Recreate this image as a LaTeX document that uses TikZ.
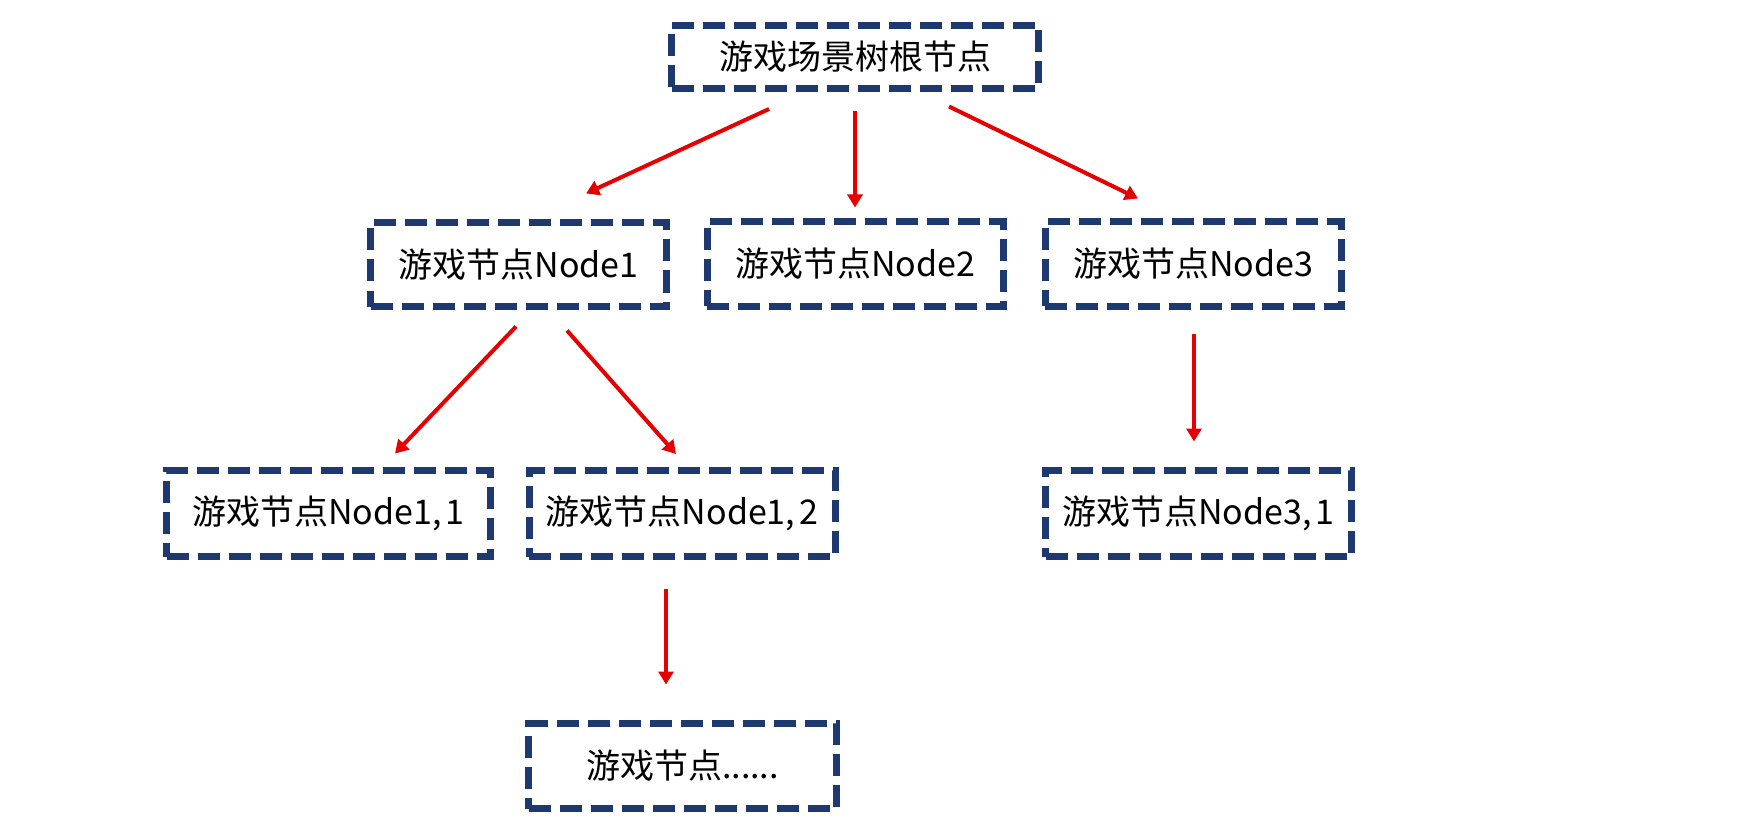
\documentclass[tikz,border=0pt]{standalone}
\usepackage{fontspec}
\setmainfont{Noto Sans CJK SC}
\usetikzlibrary{arrows.meta,calc}
\definecolor{boxblue}{RGB}{30,56,112}
\definecolor{arrred}{RGB}{230,0,0}
\tikzset{
  gbox/.style={draw=boxblue, line width=7pt, dash pattern=on 22pt off 9pt,
    rectangle, inner sep=0pt, font=\fontsize{34}{40}\selectfont, text=black},
  arr/.style={draw=arrred, line width=4pt, -{Triangle[length=13pt,width=15pt]}}
}
\begin{document}
\begin{tikzpicture}[x=1pt,y=-1pt]
\useasboundingbox[fill=white] (0,0) rectangle (1758,834);
\node[gbox, minimum width=367pt, minimum height=63pt] (root) at (855,57) {游戏场景树根节点};
\node[gbox, minimum width=296pt, minimum height=84pt] (n1) at (518.5,264.5) {游戏节点Node1};
\node[gbox, minimum width=296pt, minimum height=84pt] (n2) at (855,264) {游戏节点Node2};
\node[gbox, minimum width=296pt, minimum height=84pt] (n3) at (1193,264) {游戏节点Node3};
\node[gbox, minimum width=324pt, minimum height=86pt] (n11) at (328.5,513.5) {游戏节点Node1,\kern4pt1};
\node[gbox, minimum width=306pt, minimum height=86pt] (n12) at (682,513.5) {游戏节点Node1,\kern4pt2};
\node[gbox, minimum width=306pt, minimum height=86pt] (n31) at (1198.5,513.5) {游戏节点Node3,\kern4pt1};
\node[gbox, minimum width=308pt, minimum height=85pt] (nd) at (682.5,766) {游戏节点......};
\draw[arr] ($(root.south)+(-86,17)$) -- ($(n1.north)+(67.5,-25.5)$);
\draw[arr] ($(root.south)+(0,19.5)$) -- ($(n2.north)+(0,-11)$);
\draw[arr] ($(root.south)+(94,14.5)$) -- ($(n3.north)+(-55,-20)$);
\draw[arr] ($(n1.south)+(-2.5,16.5)$) -- ($(n11.north)+(66.5,-13.5)$);
\draw[arr] ($(n1.south)+(48.5,20.5)$) -- ($(n12.north)+(-6,-13)$);
\draw[arr] ($(n3.south)+(1,24)$) -- ($(n31.north)+(-4.5,-25.5)$);
\draw[arr] ($(n12.south)+(-16,29)$) -- ($(nd.north)+(-16.5,-35.5)$);
\end{tikzpicture}
\end{document}
